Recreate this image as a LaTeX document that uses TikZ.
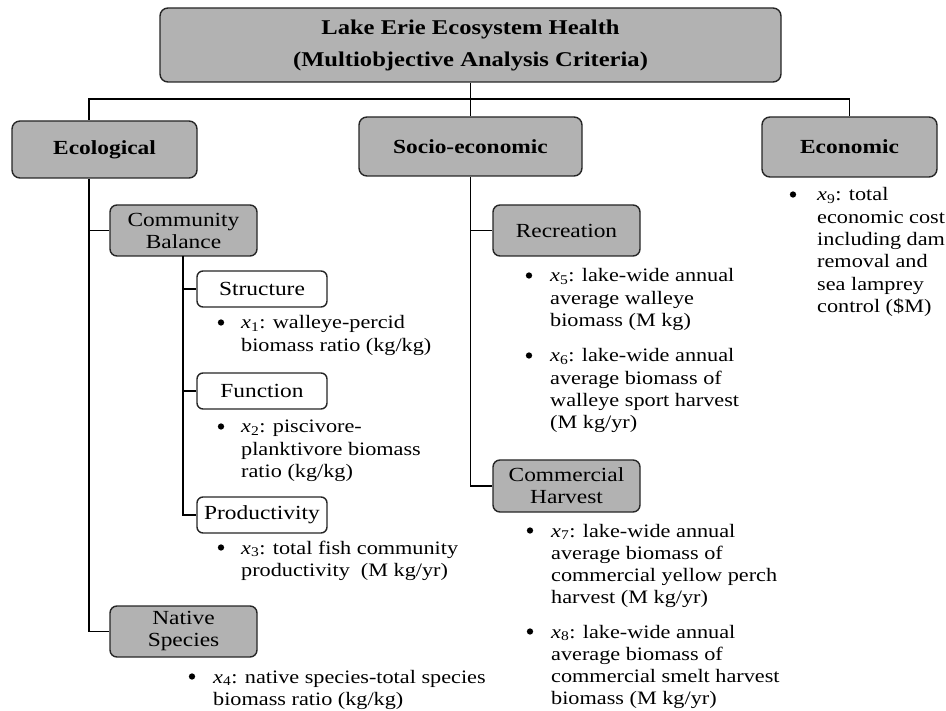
\documentclass[tikz,border=0pt]{standalone}
\usepackage{fontspec}
\setmainfont{Liberation Serif}[FakeStretch=1.17]
\newcommand{\xv}[1]{\textit{x}\textsubscript{#1}}
\newcommand{\tl}[1]{\begin{tabular}[t]{@{}l@{}}#1\end{tabular}}
\begin{document}
\begin{tikzpicture}[x=1pt,y=-1pt,
  conn/.style={line width=1.9pt,draw=black},
  mainbox/.style={draw=black!85,line width=1.4pt,rounded corners=8pt,fill=black!30,align=center,inner sep=0pt,font=\fontsize{20}{22}\selectfont\bfseries},
  subbox/.style={draw=black!85,line width=1.4pt,rounded corners=7pt,fill=black!30,align=center,inner sep=0pt,font=\fontsize{20}{22}\selectfont},
  wbox/.style={draw=black!85,line width=1.4pt,rounded corners=6pt,fill=white,align=center,inner sep=0pt,font=\fontsize{20}{22}\selectfont},
  itemtext/.style={anchor=base west,inner sep=0pt,font=\fontsize{19}{22.3}\selectfont},
  bul/.style={circle,fill=black,inner sep=0pt,minimum size=6.3pt}
]
\useasboundingbox (0,0) rectangle (946,711);

% boxes
\node[mainbox,minimum width=621pt,minimum height=74pt,font=\fontsize{21}{32}\selectfont\bfseries] (top) at (470.5,45) {Lake Erie Ecosystem Health\\(Multiobjective Analysis Criteria)};
\node[mainbox,minimum width=185pt,minimum height=57pt] (eco) at (104.5,149.5) {Ecological};
\node[mainbox,minimum width=223pt,minimum height=59pt] (socio) at (470.5,146.5) {Socio-economic};
\node[mainbox,minimum width=175pt,minimum height=60pt] (econ) at (849.5,147) {Economic};

\node[subbox,minimum width=147pt,minimum height=51pt] (cb) at (183.5,230.5) {Community\\Balance};
\node[wbox,minimum width=130pt,minimum height=36pt] (struct) at (262,289) {Structure};
\node[wbox,minimum width=130pt,minimum height=36pt] (func) at (262,391) {Function};
\node[wbox,minimum width=130pt,minimum height=36pt] (prod) at (262,515) {Productivity};
\node[subbox,minimum width=147pt,minimum height=51pt] (native) at (183.5,631.5) {Native\\Species};
\node[subbox,minimum width=147pt,minimum height=51pt] (rec) at (566.5,230.5) {Recreation};
\node[subbox,minimum width=147pt,minimum height=52pt] (comm) at (566.5,486) {Commercial\\Harvest};

% connectors
\coordinate (busL) at (89,99);
\coordinate (busR) at (849.5,99);
\draw[conn] (top.south) -- (top.south |- busL);
\draw[conn] (econ.north) -- (busR) -- (busL) -- (busL |- eco.north);
\draw[conn] (socio.north) -- (socio.north |- busL);
\draw[conn] (busL |- eco.south) |- (native.west);
\draw[conn] (busL |- cb.west) -- (cb.west);
\coordinate (cbt) at (183,256);
\draw[conn] (cbt) |- (prod.west);
\draw[conn] (cbt |- struct.west) -- (struct.west);
\draw[conn] (cbt |- func.west) -- (func.west);
\draw[conn] (socio.south) |- (comm.west);
\draw[conn] (socio.south |- rec.west) -- (rec.west);

% bullet items
\node[bul] (b1) at (221,322.5) {};
\node[itemtext] (t1) at (241,329) {\tl{\xv{1}: walleye-percid\\biomass ratio (kg/kg)}};
\node[bul] (b2) at (221,426.5) {};
\node[itemtext] (t2) at (241,433) {\tl{\xv{2}: piscivore-\\planktivore biomass\\ratio (kg/kg)}};
\node[bul] (b3) at (221,547.5) {};
\node[itemtext] (t3) at (241,554) {\tl{\xv{3}: total fish community\\productivity\ \ (M kg/yr)}};
\node[bul] (b4) at (192,676.5) {};
\node[itemtext] (t4) at (213,683) {\tl{\xv{4}: native species-total species\\biomass ratio (kg/kg)}};
\node[bul] (b5) at (529,275.5) {};
\node[itemtext] (t5) at (550,282) {\tl{\xv{5}: lake-wide annual\\average walleye\\biomass (M kg)}};
\node[bul] (b6) at (529,355.5) {};
\node[itemtext] (t6) at (550,362) {\tl{\xv{6}: lake-wide annual\\average biomass of\\walleye sport harvest\\(M kg/yr)}};
\node[bul] (b7) at (530,530.5) {};
\node[itemtext] (t7) at (551,537) {\tl{\xv{7}: lake-wide annual\\average biomass of\\commercial yellow perch\\harvest (M kg/yr)}};
\node[bul] (b8) at (530,631.5) {};
\node[itemtext] (t8) at (551,638) {\tl{\xv{8}: lake-wide annual\\average biomass of\\commercial smelt harvest\\biomass (M kg/yr)}};
\node[bul] (b9) at (793,194.5) {};
\node[itemtext] (t9) at (817,201) {\tl{\xv{9}: total\\economic cost\\including dam\\removal and\\sea lamprey\\control (\$M)}};
\end{tikzpicture}
\end{document}
